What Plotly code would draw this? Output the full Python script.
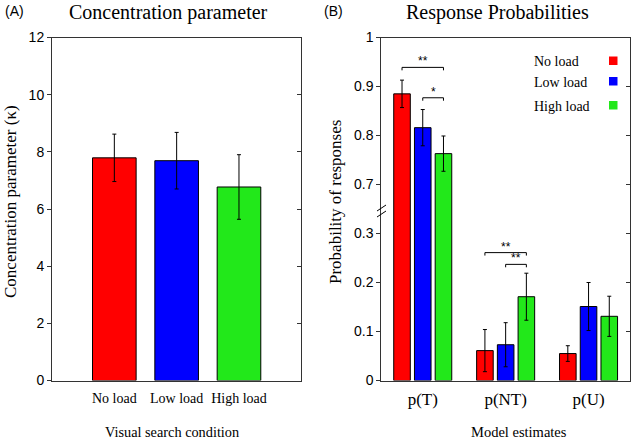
import plotly.graph_objects as go

# ---------------- data ----------------
conditions = ["No load", "Low load", "High load"]
kappa = [7.79, 7.69, 6.77]
kappa_err = [0.83, 0.99, 1.13]

params = ["p(T)", "p(NT)", "p(U)"]
prob_no_load = [0.885, 0.061, 0.055]
prob_low_load = [0.816, 0.073, 0.151]
prob_high_load = [0.763, 0.171, 0.131]
err_no_load = [0.028, 0.043, 0.016]
err_low_load = [0.037, 0.045, 0.049]
err_high_load = [0.036, 0.048, 0.041]

kappa_ticks = [0, 2, 4, 6, 8, 10, 12]
prob_tick_labels = ["0", "0.1", "0.2", "0.3", "0.7", "0.8", "0.9", "1"]
prob_tick_values = [0, 0.1, 0.2, 0.3, 0.7, 0.8, 0.9, 1.0]

# significance brackets: (parameter index, from condition, to condition, y, label)
brackets = [
    (0, 0, 2, 0.939, "**"),
    (0, 1, 2, 0.877, "*"),
    (1, 0, 2, 0.261, "**"),
    (1, 1, 2, 0.237, "**"),
]

colors = ["#FF0000", "#0000FF", "#22E81A"]

# ---------------- broken-axis transform ----------------
BREAK_LOW, BREAK_SHIFT = 0.5, 0.3


def disp(v):
    return v - BREAK_SHIFT if v > BREAK_LOW else v


W, H = 633, 440


def px(x):
    return x / W


def py(y):
    return 1 - y / H


SERIF = "Liberation Serif, Times New Roman, serif"
SANS = "Liberation Sans, Arial, sans-serif"

fig = go.Figure()

# left panel
fig.add_trace(go.Bar(
    x=conditions, y=kappa, width=0.7,
    marker=dict(color=colors, line=dict(color="black", width=1)),
    error_y=dict(type="data", array=kappa_err, color="black", thickness=1, width=2),
    xaxis="x", yaxis="y", showlegend=False,
))

# right panel
series = [
    ("No load", prob_no_load, err_no_load),
    ("Low load", prob_low_load, err_low_load),
    ("High load", prob_high_load, err_high_load),
]
for (name, vals, errs), c in zip(series, colors):
    fig.add_trace(go.Bar(
        x=params, y=[disp(v) for v in vals], name=name,
        marker=dict(color=c, line=dict(color="black", width=1)),
        error_y=dict(type="data", array=errs, color="black", thickness=1, width=2),
        xaxis="x2", yaxis="y2", showlegend=False,
    ))

# brackets
offsets = [-0.25, 0.0, 0.25]
drop = 0.006
for gi, a, b, yv, lab in brackets:
    x0 = gi + offsets[a]
    x1 = gi + offsets[b]
    yd = disp(yv)
    for (xa, ya, xb, yb) in [(x0, yd - drop, x0, yd), (x0, yd, x1, yd), (x1, yd, x1, yd - drop)]:
        fig.add_shape(type="line", xref="x2", yref="y2", x0=xa, y0=ya, x1=xb, y1=yb,
                      line=dict(color="black", width=1))
    fig.add_annotation(
        x=(x0 + x1) / 2, y=yd, xref="x2", yref="y2", text=lab,
        showarrow=False, yanchor="bottom", yshift=-3,
        font=dict(family=SANS, size=12, color="black"),
    )

ydom = [py(380.5), py(37.5)]
axis_common = dict(showline=True, linecolor="#333", linewidth=1, mirror=True,
                   showgrid=False, zeroline=False, automargin=False)

fig.update_layout(
    template="none",
    width=W, height=H,
    margin=dict(l=0, r=0, t=0, b=0, pad=0),
    paper_bgcolor="white", plot_bgcolor="white",
    barmode="group", bargap=0.25, bargroupgap=0.2,
    xaxis=dict(domain=[px(52), px(301.3)], range=[-1, 3], ticks="",
               tickfont=dict(family=SERIF, size=14, color="black"),
               ticklabelstandoff=5, anchor="y", **axis_common),
    yaxis=dict(domain=ydom, range=[0, 12], tickvals=kappa_ticks, ticks="outside",
               ticklen=4, tickcolor="#333",
               tickfont=dict(family=SANS, size=14, color="black"),
               anchor="x", **axis_common),
    yaxis3=dict(overlaying="y", side="right", range=[0, 12], tickvals=kappa_ticks,
                ticks="inside", ticklen=4, tickcolor="#333", showticklabels=False,
                showgrid=False, zeroline=False, showline=False, automargin=False, anchor="x"),
    xaxis2=dict(domain=[px(381.3), px(630)], range=[-0.5, 2.5], ticks="",
                tickfont=dict(family=SERIF, size=17, color="black"),
                ticklabelstandoff=3, anchor="y2", **axis_common),
    yaxis2=dict(domain=ydom, range=[0, 0.7],
                tickvals=[disp(v) for v in prob_tick_values], ticktext=prob_tick_labels,
                ticks="outside", ticklen=4, tickcolor="#333",
                tickfont=dict(family=SANS, size=14, color="black"),
                anchor="x2", **axis_common),
    yaxis4=dict(overlaying="y2", side="right", range=[0, 0.7],
                tickvals=[disp(v) for v in prob_tick_values],
                ticks="inside", ticklen=4, tickcolor="#333", showticklabels=False,
                showgrid=False, zeroline=False, showline=False, automargin=False, anchor="x2"),
)

# dummy traces to activate overlay axes
fig.add_trace(go.Scatter(x=[None], y=[None], xaxis="x", yaxis="y3", showlegend=False))
fig.add_trace(go.Scatter(x=[None], y=[None], xaxis="x2", yaxis="y4", showlegend=False))

# axis break marks
for dy in (-3, 3):
    fig.add_shape(type="line", xref="paper", yref="paper",
                  x0=px(377), y0=py(214 + dy), x1=px(386), y1=py(208 + dy),
                  line=dict(color="black", width=1))

# titles and labels
ann = [
    dict(text="(A)", x=px(3), y=py(11), xanchor="left", font=dict(family=SANS, size=14)),
    dict(text="(B)", x=px(322), y=py(11), xanchor="left", font=dict(family=SANS, size=14)),
    dict(text="Concentration parameter", x=px(168), y=py(12.5), font=dict(family=SERIF, size=20)),
    dict(text="Response Probabilities", x=px(497), y=py(12.5), font=dict(family=SERIF, size=20)),
    dict(text="Visual search condition", x=px(172), y=py(432), font=dict(family=SERIF, size=14.3)),
    dict(text="Model estimates", x=px(519), y=py(432), font=dict(family=SERIF, size=14.5)),
    dict(text="Concentration parameter (\u03ba)", x=px(10), y=py(202), textangle=-90,
         font=dict(family=SERIF, size=17)),
    dict(text="Probability of responses", x=px(335), y=py(202), textangle=-90,
         font=dict(family=SERIF, size=17)),
]
for a in ann:
    a["font"]["color"] = "black"
    fig.add_annotation(xref="paper", yref="paper", showarrow=False,
                       xanchor=a.pop("xanchor", "center"), yanchor="middle", **a)

# legend (text then coloured square)
legend_y = [61.5, 82, 106]
for name, c, yy in zip(conditions, colors, legend_y):
    fig.add_annotation(xref="paper", yref="paper", x=px(532), y=py(yy), text=name,
                       showarrow=False, xanchor="left", yanchor="middle",
                       font=dict(family=SERIF, size=14, color="black"))
    fig.add_shape(type="rect", xref="paper", yref="paper",
                  x0=px(609), x1=px(617.5), y0=py(yy - 5), y1=py(yy + 3.5),
                  fillcolor=c, line=dict(width=0))

fig.write_html("out.html", config={"displayModeBar": False},
               post_script="document.body.style.margin='0';document.body.style.overflow='hidden';")
